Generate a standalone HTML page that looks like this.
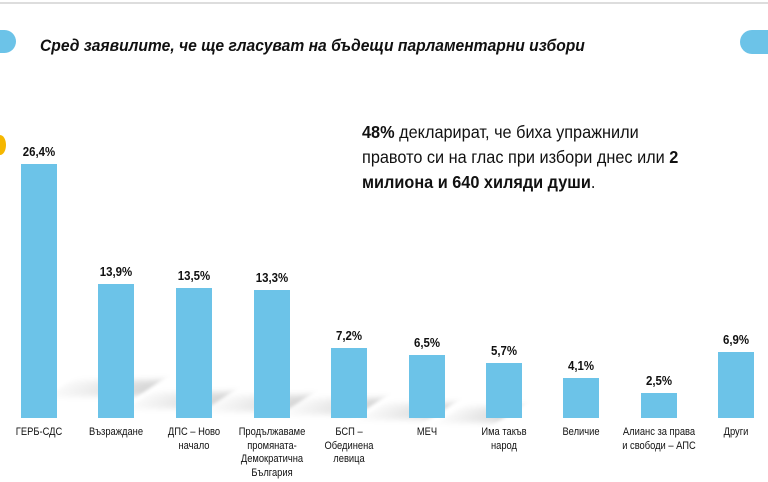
<!DOCTYPE html>
<html><head><meta charset="utf-8"><style>
*{margin:0;padding:0;box-sizing:border-box}
body{width:768px;height:482px;background:#fff;position:relative;overflow:hidden;font-family:"Liberation Sans",sans-serif;color:#111}
.abs{position:absolute}
.bar{position:absolute;background:#6cc3e8;width:36px}
.v{position:absolute;width:60px;text-align:center;font-weight:bold;font-size:13px;transform:scaleX(0.88)}
.l{position:absolute;width:90px;text-align:center;font-size:11px;line-height:13.5px;top:426px;white-space:nowrap;transform:scaleX(0.85)}
.sh{position:absolute;height:16px;background:linear-gradient(to right,rgba(0,0,0,0.02),rgba(0,0,0,0.16));transform:skewX(-55deg);filter:blur(3px)}
</style></head><body>
<div class="abs" style="left:0;top:2px;width:768px;height:2px;background:#ddd"></div>
<div class="abs" style="left:-12px;top:30px;width:28px;height:23px;border-radius:12px;background:#6cc3e8"></div>
<div class="abs" style="left:740px;top:30px;width:40px;height:24px;border-radius:12px;background:#6cc3e8"></div>
<div class="abs" style="left:-6px;top:135px;width:12px;height:20px;border-radius:50%;background:#f5b700"></div>
<div class="abs" style="left:40px;top:36px;font-size:17px;font-weight:bold;font-style:italic;white-space:nowrap;transform:scaleX(0.92);transform-origin:left">Сред заявилите, че ще гласуват на бъдещи парламентарни избори</div>
<div class="abs" style="left:362px;top:120px;font-size:17.5px;line-height:25px;white-space:nowrap;transform:scaleX(0.93);transform-origin:left">
<b>48%</b> декларират, че биха упражнили<br>правото си на глас при избори днес или <b>2</b><br><b>милиона и 640 хиляди души</b>.</div>

<div class="sh" style="left:60px;top:380px;width:90px"></div>
<div class="sh" style="left:140px;top:392px;width:80px"></div>
<div class="sh" style="left:218px;top:395px;width:80px"></div>
<div class="sh" style="left:296px;top:398px;width:75px"></div>
<div class="sh" style="left:372px;top:403px;width:70px"></div>
<div class="sh" style="left:450px;top:406px;width:60px"></div>

<div class="bar" style="left:21px;top:164px;height:254px"></div>
<div class="bar" style="left:98px;top:284px;height:134px"></div>
<div class="bar" style="left:176px;top:288px;height:130px"></div>
<div class="bar" style="left:254px;top:290px;height:128px"></div>
<div class="bar" style="left:331px;top:348px;height:70px"></div>
<div class="bar" style="left:409px;top:355px;height:63px"></div>
<div class="bar" style="left:486px;top:363px;height:55px"></div>
<div class="bar" style="left:563px;top:378px;height:40px"></div>
<div class="bar" style="left:641px;top:393px;height:25px"></div>
<div class="bar" style="left:718px;top:352px;height:66px"></div>

<div class="v" style="left:9px;top:144px">26,4%</div>
<div class="v" style="left:86px;top:264px">13,9%</div>
<div class="v" style="left:164px;top:268px">13,5%</div>
<div class="v" style="left:242px;top:270px">13,3%</div>
<div class="v" style="left:319px;top:328px">7,2%</div>
<div class="v" style="left:397px;top:335px">6,5%</div>
<div class="v" style="left:474px;top:343px">5,7%</div>
<div class="v" style="left:551px;top:358px">4,1%</div>
<div class="v" style="left:629px;top:373px">2,5%</div>
<div class="v" style="left:706px;top:332px">6,9%</div>

<div class="l" style="left:-6px">ГЕРБ-СДС</div>
<div class="l" style="left:71px">Възраждане</div>
<div class="l" style="left:149px">ДПС – Ново<br>начало</div>
<div class="l" style="left:227px">Продължаваме<br>промяната-<br>Демократична<br>България</div>
<div class="l" style="left:304px">БСП –<br>Обединена<br>левица</div>
<div class="l" style="left:382px">МЕЧ</div>
<div class="l" style="left:459px">Има такъв<br>народ</div>
<div class="l" style="left:536px">Величие</div>
<div class="l" style="left:614px">Алианс за права<br>и свободи – АПС</div>
<div class="l" style="left:691px">Други</div>
</body></html>
